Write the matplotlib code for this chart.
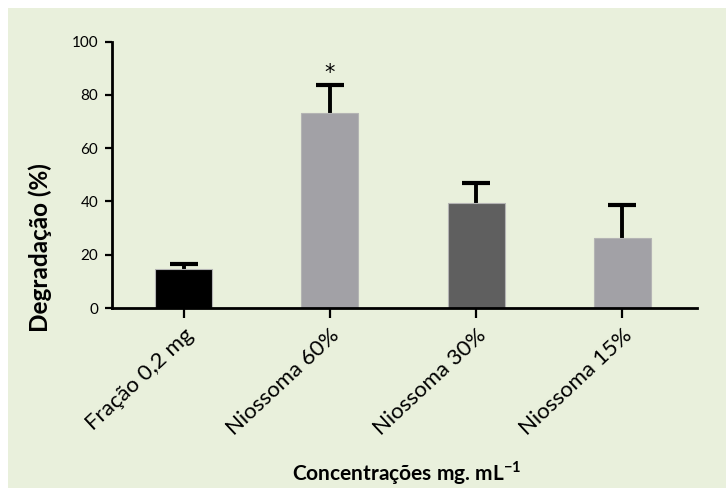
import matplotlib
matplotlib.use("agg")
import matplotlib.pyplot as plt
import numpy as np

plt.rcParams["font.family"] = ["Lato", "DejaVu Sans"]
plt.rcParams["mathtext.fontset"] = "custom"
plt.rcParams["mathtext.rm"] = "Lato"
plt.rcParams["mathtext.bf"] = "Lato:bold"

# data
categories = ["Fração 0,2 mg", "Niossoma 60%", "Niossoma 30%", "Niossoma 15%"]
degradation = [14.5, 73.2, 39.6, 26.1]
error_upper = [1.9, 10.4, 7.4, 12.7]
bar_colors = ["#000000", "#a2a1a6", "#5f5f5f", "#a2a1a6"]
yticks = [0, 20, 40, 60, 80, 100]

bg = "#e9f0dc"
bar_w = 0.39
cap_half = 0.096

fig = plt.figure(figsize=(7.26, 4.88), dpi=100, facecolor="white")
# green panel behind the chart
fig.patches.append(plt.Rectangle((8 / 726, 0), 1, 1 - 8 / 488,
                                 transform=fig.transFigure, facecolor=bg,
                                 edgecolor="none", zorder=-10))
ax = fig.add_axes([112 / 726, 1 - 308 / 488, (697 - 112) / 726, (308 - 41.7) / 488])
ax.set_facecolor("none")

x = np.arange(len(categories))
vals = np.array(degradation)
tops = vals + np.array(error_upper)

ax.bar(x, vals, width=bar_w, color=bar_colors, edgecolor="#b4b4b4",
       linewidth=0.8, zorder=2)
# upper error bars only
ax.vlines(x, vals, tops, color="black", linewidth=2.8, zorder=1)
ax.hlines(tops, x - cap_half, x + cap_half, color="black", linewidth=3, zorder=1)

# significance mark
ax.text(x[1], tops[1] + 1.0, "*", ha="center", va="bottom", fontsize=15,
        family="DejaVu Sans")

ax.set_xlim(-0.49, 3.51)
ax.set_ylim(0, 100)
ax.set_yticks(yticks)
ax.set_xticks(x)
ax.set_xticklabels(categories, rotation=43, ha="right", rotation_mode="anchor",
                   fontsize=16)
ax.tick_params(axis="y", labelsize=11, width=1.6, length=5, pad=5)
ax.tick_params(axis="x", width=1.6, length=7, pad=5)

for side in ["top", "right"]:
    ax.spines[side].set_visible(False)
for side in ["left", "bottom"]:
    ax.spines[side].set_linewidth(2)

ax.set_ylabel("Degradação (%)", fontsize=17.5, fontweight="bold")
ax.yaxis.set_label_coords(-(112 - 52) / 585, (308 - 247.5) / 266)
fig.text(407 / 726, 1 - 473 / 488, r"Concentrações mg. mL$^{\mathbf{-1}}$",
         ha="center", va="center", fontsize=15, fontweight="bold")

fig.savefig("out.png", dpi=100, facecolor=fig.get_facecolor())
